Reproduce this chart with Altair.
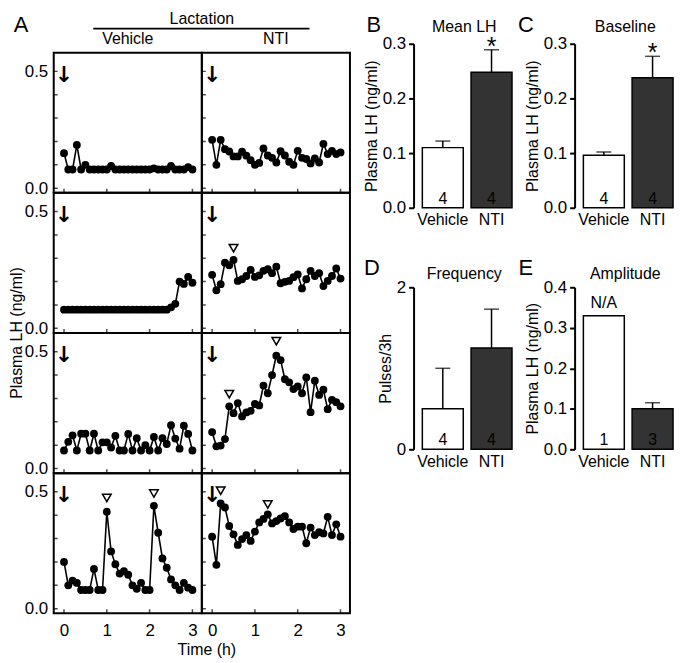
import altair as alt
import pandas as pd

FONT = "Liberation Sans"

# ---------------- data: panel A (plasma LH time courses) ----------------
times = [0.0, 0.1, 0.2, 0.3, 0.4, 0.5, 0.6, 0.7, 0.8, 0.9, 1.0,
         1.1, 1.2, 1.3, 1.4, 1.5, 1.6, 1.7, 1.8, 1.9, 2.0,
         2.1, 2.2, 2.3, 2.4, 2.5, 2.6, 2.7, 2.8, 2.9, 3.0]

row_ids = ["r1", "r2", "r3", "r4"]
col_ids = ["Vehicle", "NTI"]

lh_r1_vehicle = [0.15, 0.08, 0.08, 0.185, 0.08, 0.10, 0.08, 0.08, 0.08, 0.08, 0.08,
                 0.095, 0.08, 0.08, 0.08, 0.08, 0.08, 0.08, 0.08, 0.08, 0.08,
                 0.085, 0.08, 0.08, 0.08, 0.095, 0.08, 0.08, 0.08, 0.09, 0.08]
lh_r1_nti = [0.207, 0.10, 0.207, 0.167, 0.157, 0.136, 0.136, 0.156, 0.139, 0.12, 0.10,
             0.108, 0.17, 0.14, 0.13, 0.11, 0.158, 0.14, 0.113, 0.10, 0.16,
             0.13, 0.125, 0.106, 0.127, 0.11, 0.19, 0.146, 0.16, 0.146, 0.153]
lh_r2_vehicle = [0.08, 0.08, 0.08, 0.08, 0.08, 0.08, 0.08, 0.08, 0.08, 0.08, 0.08,
                 0.08, 0.08, 0.08, 0.08, 0.08, 0.08, 0.08, 0.08, 0.08, 0.08,
                 0.08, 0.08, 0.08, 0.08, 0.09, 0.105, 0.20, 0.19, 0.22, 0.195]
lh_r2_nti = [0.229, 0.163, 0.189, 0.281, 0.27, 0.293, 0.203, 0.21, 0.224, 0.25, 0.22,
             0.227, 0.246, 0.253, 0.236, 0.264, 0.193, 0.199, 0.203, 0.219, 0.231,
             0.171, 0.21, 0.246, 0.224, 0.236, 0.181, 0.203, 0.224, 0.256, 0.213]
lh_r3_vehicle = [0.077, 0.114, 0.142, 0.077, 0.149, 0.149, 0.077, 0.149, 0.077, 0.112, 0.112,
                 0.09, 0.14, 0.077, 0.077, 0.148, 0.077, 0.13, 0.077, 0.10, 0.077,
                 0.135, 0.077, 0.13, 0.105, 0.185, 0.128, 0.085, 0.183, 0.148, 0.077]
lh_r3_nti = [0.156, 0.095, 0.098, 0.126, 0.266, 0.237, 0.28, 0.223, 0.24, 0.247, 0.276,
             0.27, 0.355, 0.322, 0.40, 0.483, 0.464, 0.382, 0.369, 0.34, 0.351,
             0.322, 0.39, 0.241, 0.376, 0.315, 0.337, 0.254, 0.294, 0.284, 0.266]
lh_r4_vehicle = [0.20, 0.10, 0.12, 0.11, 0.08, 0.08, 0.08, 0.17, 0.08, 0.08, 0.415,
                 0.245, 0.19, 0.15, 0.16, 0.145, 0.10, 0.085, 0.11, 0.08, 0.08,
                 0.44, 0.325, 0.215, 0.175, 0.125, 0.10, 0.08, 0.11, 0.09, 0.08]
lh_r4_nti = [0.308, 0.1875, 0.45, 0.433, 0.354, 0.318, 0.273, 0.298, 0.315, 0.29, 0.33,
             0.369, 0.384, 0.403, 0.365, 0.375, 0.386, 0.396, 0.369, 0.341, 0.351,
             0.351, 0.28, 0.347, 0.315, 0.327, 0.322, 0.393, 0.315, 0.361, 0.308]

# pulse markers (open triangles)
peak_row = ["r2", "r3", "r3", "r4", "r4", "r4", "r4"]
peak_col = ["NTI", "NTI", "NTI", "Vehicle", "Vehicle", "NTI", "NTI"]
peak_t = [0.5, 0.4, 1.5, 1.0, 2.1, 0.2, 1.3]
peak_y = [0.343, 0.318, 0.545, 0.474, 0.493, 0.505, 0.446]

arrow_t = 0.0
arrow_y = 0.485
x_tick_values = [0, 1, 2, 3]
y_tick_values = [0.0, 0.1, 0.2, 0.3, 0.4, 0.5]

# ---------------- data: bar panels ----------------
groups = ["Vehicle", "NTI"]
mean_lh = [0.11, 0.248]
mean_lh_upper = [0.122, 0.289]
baseline_lh = [0.096, 0.238]
baseline_lh_upper = [0.102, 0.277]
freq = [0.5, 1.25]
freq_upper = [1.0, 1.73]
amp = [0.33, 0.10]
amp_upper = [0.33, 0.115]
n_mean = [4, 4]
n_amp = [1, 3]
sig_mean = [False, True]
sig_none = [False, False]

# ---------------- panel A table ----------------
series = {
    ("r1", "Vehicle"): lh_r1_vehicle, ("r1", "NTI"): lh_r1_nti,
    ("r2", "Vehicle"): lh_r2_vehicle, ("r2", "NTI"): lh_r2_nti,
    ("r3", "Vehicle"): lh_r3_vehicle, ("r3", "NTI"): lh_r3_nti,
    ("r4", "Vehicle"): lh_r4_vehicle, ("r4", "NTI"): lh_r4_nti,
}
recs = []
for (r, c), vals in series.items():
    for t, v in zip(times, vals):
        recs.append(dict(row=r, col=c, kind="series", t=t, lh=v, t2=0.0))
    recs.append(dict(row=r, col=c, kind="arrow", t=arrow_t, lh=arrow_y, t2=0.0))
    for t in x_tick_values:
        recs.append(dict(row=r, col=c, kind="xtick", t=t, lh=0.0, t2=0.0))
    for v in y_tick_values:
        recs.append(dict(row=r, col=c, kind="ytick", t=0.0, lh=v, t2=0.0))
for r, c, t, v in zip(peak_row, peak_col, peak_t, peak_y):
    recs.append(dict(row=r, col=c, kind="peak", t=t, lh=v, t2=0.0))
# rule under the "Lactation" header
recs.append(dict(row="r1", col="Vehicle", kind="hdr", t=0.683, t2=3.22, lh=0.683))
recs.append(dict(row="r1", col="NTI", kind="hdr", t=-0.24, t2=2.274, lh=0.683))
# single annotation anchors
recs.append(dict(row="r1", col="Vehicle", kind="top", t=0.0, lh=0.0, t2=0.0))
recs.append(dict(row="r2", col="Vehicle", kind="ytitle", t=0.0, lh=0.0, t2=0.0))
recs.append(dict(row="r4", col="Vehicle", kind="xtitle", t=0.0, lh=0.0, t2=0.0))
dfA = pd.DataFrame(recs)

xs = alt.Scale(domain=[-0.24, 3.22], nice=False, zero=False)
ys = alt.Scale(domain=[-0.02, 0.58], nice=False, zero=False)
xax = alt.Axis(values=x_tick_values, format="d", ticks=False, domain=False, grid=False,
               labelFontSize=17, labelPadding=9, labelFont=FONT, labelColor="black")
yax = alt.Axis(values=[0, 0.5], format=".1f", ticks=False, domain=False, grid=False,
               labelFontSize=17, labelPadding=6, labelFont=FONT, labelColor="black")
X = alt.X("t:Q", scale=xs, axis=xax, title=None)
Y = alt.Y("lh:Q", scale=ys, axis=yax, title=None)

base = alt.Chart()
ser = base.transform_filter("datum.kind == 'series'")
line = ser.mark_line(color="black", strokeWidth=1.6).encode(x=X, y=Y)
dots = ser.mark_circle(color="black", size=62, opacity=1).encode(x=X, y=Y)
tri = base.transform_filter("datum.kind == 'peak'").mark_point(
    shape="triangle-down", filled=False, color="black", size=75, strokeWidth=1.5, opacity=1
).encode(x=X, y=Y)
arrow = base.transform_filter("datum.kind == 'arrow'").mark_text(
    text="↓", font="DejaVu Sans", fontSize=22, fontWeight="bold", color="black",
    align="center", baseline="middle"
).encode(x=X, y=Y)
xt = base.transform_filter("datum.kind == 'xtick'").mark_tick(
    color="black", orient="vertical", size=8, thickness=1.5, clip=True
).encode(x=X, y=alt.value("height"))
yt = base.transform_filter("datum.kind == 'ytick'").mark_tick(
    color="black", orient="horizontal", size=8, thickness=1.5, clip=True
).encode(y=Y, x=alt.value(0))
hdr = base.transform_filter("datum.kind == 'hdr'").mark_rule(
    color="black", strokeWidth=2, clip=False
).encode(x=X, x2="t2:Q", y=Y)
top = base.transform_filter("datum.kind == 'top'")
letA = top.mark_text(
    text="A", font=FONT, fontSize=22, color="black", align="center", baseline="middle"
).encode(x=alt.value(-33), y=alt.value(-28))
lact = top.mark_text(
    text="Lactation", font=FONT, fontSize=16, color="black", align="center",
    baseline="middle"
).encode(x=alt.value("width"), y=alt.value(-34))
ytitle = base.transform_filter("datum.kind == 'ytitle'").mark_text(
    text="Plasma LH (ng/ml)", font=FONT, fontSize=16, color="black", align="center",
    baseline="middle", angle=270
).encode(x=alt.value(-37), y=alt.value("height"))
xtitle = base.transform_filter("datum.kind == 'xtitle'").mark_text(
    text="Time (h)", font=FONT, fontSize=16, color="black", align="center",
    baseline="middle", dx=5, dy=37
).encode(x=alt.value("width"), y=alt.value("height"))

panelA = alt.layer(line, dots, tri, arrow, xt, yt, hdr, letA, lact, ytitle, xtitle).properties(
    width=149, height=141
).facet(
    data=dfA,
    row=alt.Row("row:N", sort=row_ids, title=None, header=alt.Header(labels=False)),
    column=alt.Column("col:N", sort=col_ids, title=None,
                      header=alt.Header(labelFontSize=16, labelFont=FONT, labelColor="black",
                                        labelPadding=6)),
    spacing=0,
    bounds="flush",
)


def bar_chart(means, uppers, ns, sig, ymax, yvals, yfmt, ytitle_txt, title, letter,
              letter_dx, height, title_dy, lift=0, na=False):
    W = 100
    H = height - lift
    df = pd.DataFrame(dict(group=groups, mean=means, upper=uppers, n=ns, sig=sig))
    b = alt.Chart(df)
    veh = b.transform_filter("datum.group == 'Vehicle'")
    xe = alt.X("group:N", sort=groups,
               scale=alt.Scale(paddingInner=0.16, paddingOuter=0.1, align=0.9),
               axis=alt.Axis(title=None, labelAngle=0, domain=False, ticks=False,
                             labelFontSize=16, labelPadding=4, labelFont=FONT,
                             labelColor="black"))
    ysc = alt.Scale(domain=[0, ymax], nice=False, zero=True, range=[H, -lift])
    yax_b = alt.Axis(values=yvals, format=yfmt, grid=False, domain=True, domainColor="black",
                     domainWidth=2, ticks=True, tickColor="black", tickWidth=2, tickSize=5,
                     labelFontSize=17, labelPadding=3, labelFont=FONT, labelColor="black",
                     titleFontSize=16, titleFontWeight="normal", titleFont=FONT,
                     titleColor="black", titlePadding=3)
    bars = b.mark_bar(stroke="black", strokeWidth=1.5).encode(
        x=xe, y=alt.Y("mean:Q", scale=ysc, axis=yax_b, title=ytitle_txt),
        fill=alt.Fill("group:N", scale=alt.Scale(domain=groups, range=["white", "#333333"]),
                      legend=None))
    eb = b.transform_filter("datum.upper > datum.mean")
    err = eb.mark_rule(color="black", strokeWidth=1.5).encode(
        x=xe, y=alt.Y("mean:Q", scale=ysc, axis=yax_b, title=ytitle_txt), y2="upper:Q")
    cap = eb.mark_tick(color="black", size=15, thickness=1.5, orient="horizontal").encode(
        x=xe, y=alt.Y("upper:Q", scale=ysc, axis=yax_b, title=ytitle_txt))
    cnt = b.mark_text(font=FONT, fontSize=16, color="black", baseline="bottom", dy=-1).encode(
        x=xe, y=alt.datum(0), text="n:Q")
    star = b.transform_filter("datum.sig").mark_text(
        text="*", font=FONT, fontSize=25, color="black", baseline="top", dy=-15).encode(
        x=xe, y=alt.Y("upper:Q", scale=ysc, axis=yax_b, title=ytitle_txt))
    let = veh.mark_text(
        text=letter, font=FONT, fontSize=22, color="black", align="center",
        baseline="middle").encode(x=alt.value(letter_dx), y=alt.value(-19 - lift))
    ttl = veh.mark_text(
        text=title, font=FONT, fontSize=16, color="black", align="center",
        baseline="middle").encode(x=alt.value(W / 2 + 1), y=alt.value(title_dy - lift))
    layers = [bars, err, cap, cnt, star, let, ttl]
    if na:
        nat = veh.mark_text(
            text="N/A", font=FONT, fontSize=16, color="black", baseline="bottom", dy=-5
        ).encode(x=xe, y=alt.Y("mean:Q", scale=ysc, axis=yax_b, title=ytitle_txt))
        layers.append(nat)
    return alt.layer(*layers).properties(
        width=W, height=H,
        view=alt.ViewBackground(stroke="transparent"),
    )


pB = bar_chart(mean_lh, mean_lh_upper, n_mean, sig_mean, 0.3, [0, 0.1, 0.2, 0.3], ".1f",
               "Plasma LH (ng/ml)", "Mean LH", "B", -40, 165, -17, lift=9)
pC = bar_chart(baseline_lh, baseline_lh_upper, n_mean, sig_mean, 0.3, [0, 0.1, 0.2, 0.3], ".1f",
               "Plasma LH (ng/ml)", "Baseline", "C", -49, 165, -17, lift=9)
pD = bar_chart(freq, freq_upper, n_mean, sig_none, 2, [0, 1, 2], "d",
               "Pulses/3h", "Frequency", "D", -42, 163, -13)
pE = bar_chart(amp, amp_upper, n_amp, sig_none, 0.4, [0, 0.1, 0.2, 0.3, 0.4], ".1f",
               "Plasma LH (ng/ml)", "Amplitude", "E", -49, 163, -13, na=True)

right = alt.vconcat(alt.hconcat(pB, pC, spacing=3), alt.hconcat(pD, pE, spacing=3), spacing=28)

chart = alt.hconcat(panelA, right, spacing=11).properties(
    padding={"left": 0, "top": 0, "right": 0, "bottom": 0}
).configure(font=FONT).configure_view(stroke="black", strokeWidth=2)

chart.save("out.html", embed_options={"renderer": "svg", "actions": False})
